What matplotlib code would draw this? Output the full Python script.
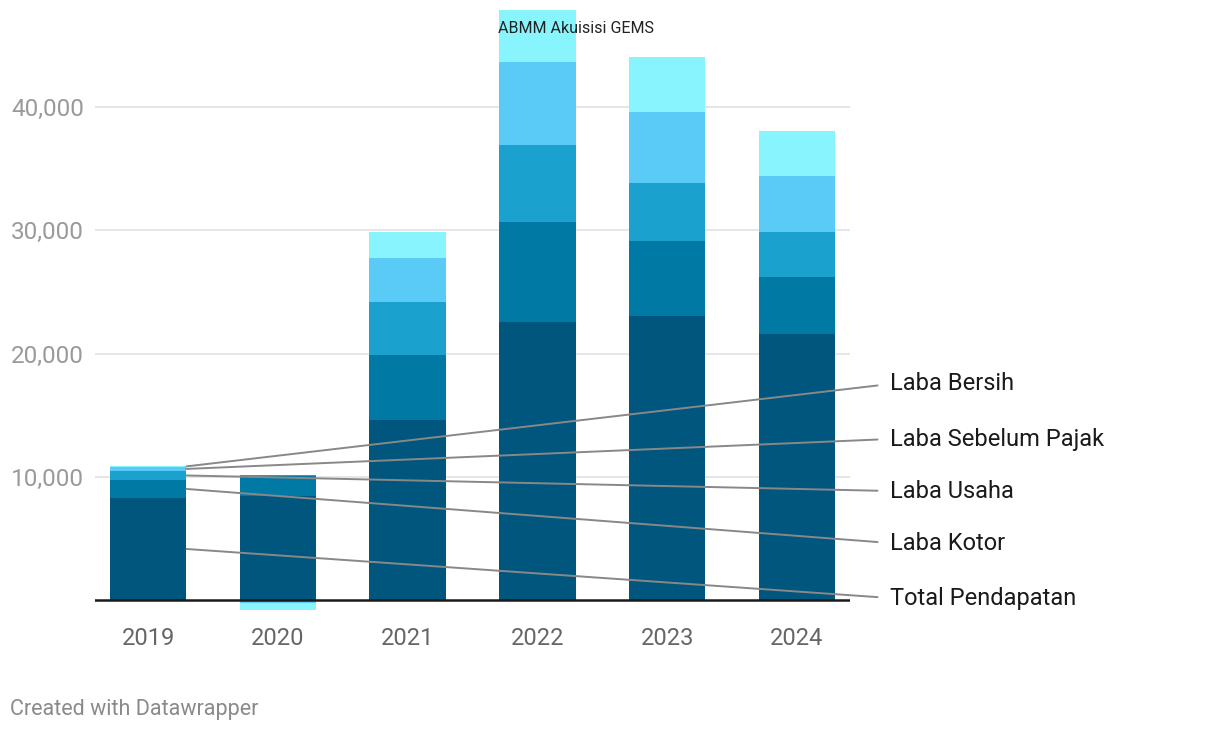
import numpy as np
import matplotlib.pyplot as plt

plt.rcParams['font.family'] = ['Roboto', 'DejaVu Sans']

# Data (in the chart's units)
years = ['2019', '2020', '2021', '2022', '2023', '2024']
series = ['Total Pendapatan', 'Laba Kotor', 'Laba Usaha', 'Laba Sebelum Pajak', 'Laba Bersih']
total_pendapatan = [8280, 8440, 14600, 22560, 23040, 21580]
laba_kotor = [1460, 1620, 5300, 8100, 6100, 4620]
laba_usaha = [730, 120, 4300, 6250, 4700, 3650]
laba_sebelum_pajak = [330, -250, 3550, 6750, 5760, 4540]
laba_bersih = [80, -550, 2100, 4200, 4460, 3650]
values = [total_pendapatan, laba_kotor, laba_usaha, laba_sebelum_pajak, laba_bersih]
colors = ['#00567d', '#0079a5', '#1aa1ce', '#5acbf6', '#88f5fe']
label_y_px = [598, 543, 491, 439, 384]  # label positions in pixels from top

W, H = 1220, 732
fig = plt.figure(figsize=(W / 100, H / 100), dpi=100)
ymin, ymax = -1200, 48000
ppu = 493 / 40000
ax_h = (ymax - ymin) * ppu
ax_bottom = 600 + (-ymin) * ppu
ax = fig.add_axes([95 / W, (H - ax_bottom) / H, 755 / W, ax_h / H])

x = np.arange(len(years))
width = 0.59
pos_base = np.zeros(len(years))
neg_base = np.zeros(len(years))
mids = []
for vals, c in zip(values, colors):
    vals = np.array(vals, dtype=float)
    base = np.where(vals >= 0, pos_base, neg_base)
    ax.bar(x, vals, width, bottom=base, color=c, linewidth=0, zorder=2, clip_on=False)
    mids.append(base[0] + vals[0] / 2)
    pos_base = np.where(vals >= 0, pos_base + vals, pos_base)
    neg_base = np.where(vals < 0, neg_base + vals, neg_base)

ax.set_xlim(-0.41, 5.41)
ax.set_ylim(ymin, ymax)
for s in ax.spines.values():
    s.set_visible(False)
ax.set_yticks([10000, 20000, 30000, 40000])
ax.grid(axis='y', color='#e2e2e2', linewidth=1.2, zorder=0)
ax.set_axisbelow(True)
ax.tick_params(axis='y', length=0, pad=8, labelsize=17.5, labelcolor='#9a9a9a')
ax.set_yticklabels(['{:,}'.format(v) for v in [10000, 20000, 30000, 40000]])
ax.set_xticks(x)
ax.set_xticklabels(years)
ax.tick_params(axis='x', length=0, pad=9, labelsize=17, labelcolor='#666666')
ax.axhline(0, color='#1a1a1a', linewidth=1.8, zorder=3)

ax.text(3.3, 46400, 'ABMM Akuisisi GEMS', ha='center', va='center',
        fontsize=11.5, color='#222222', zorder=4)

for name, mid, ly in zip(series, mids, label_y_px):
    ax.annotate(name, xy=(width / 2, mid), xycoords='data',
                xytext=(890 / W, 1 - ly / H), textcoords='figure fraction',
                ha='left', va='center', fontsize=17, color='#1a1a1a',
                arrowprops=dict(arrowstyle='-', color='#888888', lw=1.4,
                                shrinkA=7, shrinkB=0, relpos=(0, 0.5)),
                zorder=5, annotation_clip=False)

fig.text(10 / W, 1 - 710 / H, 'Created with Datawrapper', ha='left', va='center',
         fontsize=15.5, color='#8a8a8a')

fig.savefig('out.png', dpi=100)
